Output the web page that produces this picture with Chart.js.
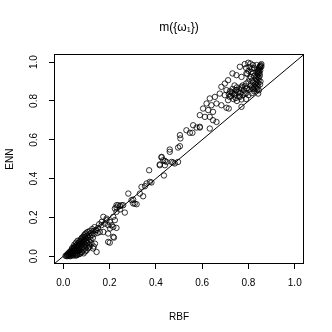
<!DOCTYPE html>
<html>
<head>
<meta charset="utf-8">
<script src="https://cdn.jsdelivr.net/npm/chart.js@4/dist/chart.umd.min.js"></script>
<style>
html,body{margin:0;padding:0;background:#fff;}
#wrap{width:332px;height:332px;}
</style>
</head>
<body>
<div id="wrap"><canvas id="c" width="332" height="332"></canvas></div>
<script>
// ---- data ----
const chartTitle = 'm({ω₁})';
const xTitle = 'RBF';
const yTitle = 'ENN';
const axisRange = [-0.04, 1.04];
const xTicks = [0, 0.2, 0.4, 0.6, 0.8, 1.0];
const yTicks = [0, 0.2, 0.4, 0.6, 0.8, 1.0];

// low cluster
const rbfLow = [0.014,0.018,0.020,0.022,0.025,0.026,0.028,0.030,0.032,0.033,0.035,0.036,0.038,0.040,0.040,0.042,0.044,0.045,0.046,0.048,
0.050,0.050,0.052,0.053,0.055,0.056,0.057,0.058,0.060,0.060,0.062,0.063,0.064,0.065,0.066,0.068,0.068,0.070,0.070,0.072,
0.073,0.074,0.075,0.076,0.077,0.078,0.080,0.080,0.082,0.083,0.084,0.085,0.086,0.087,0.088,0.090,0.090,0.092,0.093,0.094,
0.095,0.096,0.097,0.098,0.100,0.100,0.102,0.103,0.104,0.105,0.107,0.108,0.110,0.110,0.112,0.114,0.115,0.116,0.118,0.120,
0.110,0.122,0.125,0.128,0.130,0.132,0.135,0.144,0.140,0.129,0.010,0.016,0.024,0.030,0.036,0.044,0.048,0.055,0.062,0.058,
0.066,0.072,0.080,0.088,0.095,0.100,0.060,0.052,0.045,0.038,0.125,0.135,0.150,0.155,0.148];
const ennLow = [0.005,0.010,0.004,0.015,0.008,0.020,0.012,0.025,0.018,0.006,0.030,0.015,0.022,0.035,0.010,0.028,0.040,0.018,0.032,0.045,
0.025,0.012,0.038,0.050,0.030,0.020,0.045,0.058,0.035,0.015,0.050,0.065,0.025,0.042,0.058,0.070,0.032,0.050,0.080,0.062,
0.040,0.075,0.020,0.055,0.088,0.068,0.045,0.095,0.080,0.060,0.030,0.100,0.072,0.050,0.090,0.108,0.065,0.082,0.040,0.100,
0.115,0.058,0.075,0.092,0.120,0.050,0.105,0.068,0.085,0.125,0.040,0.095,0.112,0.060,0.075,0.130,0.050,0.100,0.085,0.120,
0.045,0.065,0.110,0.095,0.130,0.050,0.115,0.022,0.135,0.040,0.002,0.000,0.002,0.000,0.003,0.005,0.060,0.070,0.080,0.005,
0.010,0.012,0.020,0.015,0.025,0.030,0.008,0.003,0.050,0.042,0.140,0.150,0.145,0.165,0.120];

// middle band
const rbfMid = [0.137,0.194,0.201,0.216,0.219,0.144,0.158,0.173,0.194,0.165,0.180,0.194,0.209,0.230,0.216,0.202,0.173,0.187,0.201,0.166,
0.187,0.216,0.223,0.230,0.223,0.230,0.245,0.259,0.252,0.237,0.230,0.245,0.266,0.281,0.331,0.345,0.295,0.302,0.302,0.309,
0.317,0.338,0.353,0.360,0.374,0.381,0.371,0.417,0.424,0.432,0.439,0.446,0.475,0.496,0.435,0.425,0.417,0.439,0.468,0.460,
0.482,0.460,0.496,0.504,0.504,0.506,0.532,0.547,0.558,0.561,0.576,0.590,0.590,0.612,0.633,0.647,0.662,0.633,0.604,0.626,
0.647,0.619,0.640,0.662,0.683,0.633,0.655,0.715,0.770,0.712,0.590,0.705];
const ennMid = [0.065,0.074,0.070,0.100,0.096,0.134,0.125,0.125,0.117,0.160,0.168,0.160,0.160,0.146,0.151,0.143,0.203,0.186,0.177,0.177,
0.194,0.203,0.186,0.229,0.246,0.263,0.259,0.263,0.263,0.263,0.251,0.241,0.225,0.323,0.323,0.309,0.289,0.272,0.292,0.271,
0.268,0.357,0.361,0.375,0.383,0.380,0.443,0.473,0.509,0.495,0.491,0.486,0.483,0.486,0.416,0.512,0.469,0.469,0.486,0.538,
0.478,0.550,0.560,0.567,0.624,0.607,0.649,0.636,0.636,0.675,0.663,0.663,0.727,0.718,0.718,0.701,0.692,0.658,0.761,0.753,
0.744,0.787,0.778,0.787,0.778,0.813,0.821,0.761,0.770,0.804,0.667,0.765];

// high cluster
const rbfHigh = [0.676,0.698,0.719,0.741,0.763,0.784,0.683,0.698,0.712,0.705,0.727,0.748,0.770,0.791,0.820,0.842,0.731,0.748,0.770,0.791,
0.763,0.784,0.799,0.809,0.820,0.790,0.805,0.815,0.825,0.835,0.812,0.800,0.795,0.820,0.825,0.810,0.805,0.815,0.820,0.800,
0.790,0.810,0.785,0.775,0.795,0.805,0.815,0.770,0.780,0.760,0.750,0.745,0.755,0.765,0.740,0.731,0.730,0.720,0.715,0.725,
0.740,0.745,0.735,0.750,0.760,0.775,0.790,0.800,0.815,0.825,0.770,0.790,
0.856,0.853,0.850,0.848,0.845,0.852,0.856,0.843,0.840,0.846,0.851,0.838,0.842,0.848,0.835,0.840,0.845,0.832,0.838,0.844,
0.830,0.836,0.842,0.828,0.835,0.840,0.826,0.832,0.838,0.845,0.822,0.850,0.852,0.849];
const ennHigh = [0.838,0.830,0.821,0.838,0.821,0.838,0.873,0.890,0.907,0.856,0.847,0.856,0.873,0.864,0.864,0.838,0.942,0.933,0.924,0.942,
0.976,0.990,0.997,0.993,0.985,0.970,0.975,0.965,0.970,0.985,0.950,0.955,0.940,0.945,0.930,0.925,0.915,0.905,0.895,0.900,
0.890,0.880,0.875,0.880,0.865,0.860,0.870,0.865,0.855,0.860,0.870,0.855,0.845,0.840,0.880,0.862,0.840,0.850,0.835,0.825,
0.830,0.815,0.810,0.800,0.825,0.830,0.840,0.830,0.840,0.850,0.808,0.810,
0.990,0.985,0.980,0.975,0.968,0.972,0.978,0.960,0.955,0.950,0.958,0.945,0.938,0.942,0.930,0.925,0.920,0.915,0.910,0.905,
0.900,0.895,0.890,0.885,0.880,0.873,0.870,0.865,0.860,0.855,0.860,0.885,0.900,0.930];

// ---- build ----
function pairs(xs, ys){ return xs.map((v,i)=>({x:v, y:ys[i]})); }
const points = [].concat(pairs(rbfLow,ennLow), pairs(rbfMid,ennMid), pairs(rbfHigh,ennHigh));
const refLine = axisRange.map(v=>({x:v, y:v}));

const FONT = "'Liberation Sans', Arial, Helvetica, sans-serif";

const frame = {
  id:'frame',
  afterDraw(chart){
    const {ctx, chartArea:a} = chart;
    ctx.save();
    ctx.strokeStyle = '#000';
    ctx.lineWidth = 1;
    ctx.strokeRect(Math.round(a.left)+0.5, Math.round(a.top)+0.5, Math.round(a.right-a.left)-1, Math.round(a.bottom-a.top)-1);
    // y tick labels, rotated like R
    const ys = chart.scales.y;
    ctx.fillStyle = '#000';
    ctx.font = '10px ' + FONT;
    ctx.textAlign = 'center';
    ctx.textBaseline = 'middle';
    ys.ticks.forEach(t=>{
      const py = ys.getPixelForValue(t.value);
      ctx.save();
      ctx.translate(34, py);
      ctx.rotate(-Math.PI/2);
      ctx.fillText(t.value.toFixed(1), 0, 0);
      ctx.restore();
    });
    ctx.restore();
  }
};

new Chart(document.getElementById('c'), {
  type:'scatter',
  data:{
    datasets:[
      {data:points, pointStyle:'circle', pointRadius:2.7, pointHoverRadius:2.7,
       borderColor:'#000', backgroundColor:'rgba(0,0,0,0)', pointBorderWidth:0.8, borderWidth:0.8, showLine:false},
      {type:'line', data:refLine, borderColor:'#000', borderWidth:1, pointRadius:0, fill:false, tension:0}
    ]
  },
  options:{
    responsive:false,
    animation:false,
    devicePixelRatio:1,
    layout:{padding:{top:0,right:28,bottom:0,left:0}},
    plugins:{
      legend:{display:false},
      tooltip:{enabled:false},
      title:{display:true, text:chartTitle, fullSize:false, color:'#000',
        font:{family:FONT, size:12, weight:'normal'}, padding:{top:20,bottom:20}}
    },
    scales:{
      x:{type:'linear', min:axisRange[0], max:axisRange[1],
        afterBuildTicks(s){ s.ticks = xTicks.map(v=>({value:v})); },
        afterFit(s){ s.height = 68; },
        grid:{display:true, drawOnChartArea:false, drawTicks:true, tickLength:5, color:'#000', lineWidth:1},
        border:{display:false},
        ticks:{color:'#000', font:{family:FONT, size:10}, padding:8, maxRotation:0, minRotation:0,
          callback:(v)=>Number(v).toFixed(1)},
        title:{display:true, text:xTitle, color:'#000', font:{family:FONT, size:10}, padding:{top:9,bottom:9}}
      },
      y:{type:'linear', min:axisRange[0], max:axisRange[1],
        afterBuildTicks(s){ s.ticks = yTicks.map(v=>({value:v})); },
        afterFit(s){ s.width = 54; },
        grid:{display:true, drawOnChartArea:false, drawTicks:true, tickLength:5, color:'#000', lineWidth:1},
        border:{display:false},
        ticks:{display:false},
        title:{display:true, text:yTitle, color:'#000', font:{family:FONT, size:10}, padding:{top:4,bottom:4}}
      }
    }
  },
  plugins:[frame]
});
</script>
</body>
</html>
